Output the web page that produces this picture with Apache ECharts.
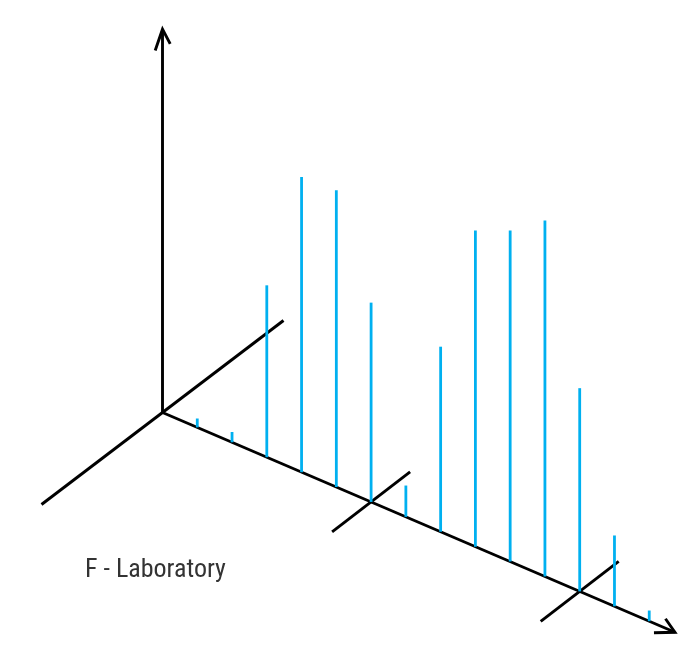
<!DOCTYPE html>
<html>
<head>
<meta charset="utf-8">
<title>F - Laboratory</title>
<script src="https://cdn.jsdelivr.net/npm/echarts@6/dist/echarts.min.js"></script>
<style>
  html, body { margin: 0; padding: 0; background: #fff; }
  #chart { width: 699px; height: 666px; }
</style>
</head>
<body>
<div id="chart"></div>
<script>
  // positions along the slanted axis and spike heights (relative, max = 100)
  const positions = [1, 2, 3, 4, 5, 6, 7, 8, 9, 10, 11, 12, 13, 14];
  const intensities = [2.5, 2.9, 48.3, 82.9, 83.4, 56.0, 8.8, 52.0, 88.8, 93.0, 100, 57.1, 19.9, 3.0];
  // marks crossing the slanted axis
  const crossTicks = [6, 12];
  const labelText = 'F - Laboratory';

  const blue = '#00b0f0';
  const skew = 0.4288;        // drop of the slanted axis per pixel
  const axisEnd = 14.74;      // arrow tip of the slanted axis
  const heightEnd = 107.7;    // arrow tip of the vertical axis
  const depth = [121, -92];   // half length of the depth axis (px)
  const crossHalf = [39, -30];

  let chart = echarts.init(document.getElementById('chart'));

  // point on the slanted baseline for a given position
  function basePoint(api, x) {
    let o = api.coord([0, 0]);
    let p = api.coord([x, 0]);
    return [p[0], p[1] + skew * (p[0] - o[0])];
  }

  function renderAxes(params, api) {
    let o = api.coord([0, 0]);
    let top = api.coord([0, heightEnd]);
    let tip = basePoint(api, axisEnd);
    let lineStyle = { stroke: '#000', lineWidth: 2.9, fill: null, lineJoin: 'miter' };
    let children = [
      { type: 'line', shape: { x1: o[0], y1: o[1], x2: top[0], y2: top[1] }, style: lineStyle },
      { type: 'polyline', shape: { points: [[top[0] - 7.3, top[1] + 21.4], top, [top[0] + 7.7, top[1] + 14.7]] }, style: lineStyle },
      { type: 'line', shape: { x1: o[0], y1: o[1], x2: tip[0], y2: tip[1] }, style: lineStyle },
      { type: 'polyline', shape: { points: [[tip[0] - 21, tip[1] + 0.5], tip, [tip[0] - 9.5, tip[1] - 13.5]] }, style: lineStyle },
      { type: 'line', shape: { x1: o[0] - depth[0], y1: o[1] - depth[1], x2: o[0] + depth[0], y2: o[1] + depth[1] }, style: lineStyle }
    ];
    crossTicks.forEach(function (c) {
      let p = basePoint(api, c);
      children.push({
        type: 'line',
        shape: { x1: p[0] - crossHalf[0], y1: p[1] - crossHalf[1], x2: p[0] + crossHalf[0], y2: p[1] + crossHalf[1] },
        style: lineStyle
      });
    });
    return { type: 'group', children: children };
  }

  function renderSpike(params, api) {
    let p = basePoint(api, api.value(0));
    let h = api.size([0, api.value(1)])[1];
    return {
      type: 'line',
      shape: { x1: p[0], y1: p[1], x2: p[0], y2: p[1] - h },
      style: { stroke: blue, lineWidth: 2.8 }
    };
  }

  let option = {
    animation: false,
    grid: { left: 162.5, right: 15, top: 21, bottom: 253.5 },
    xAxis: { type: 'value', min: 0, max: 15, show: false },
    yAxis: { type: 'value', min: 0, max: 110, show: false },
    series: [
      {
        type: 'custom',
        z: 1,
        clip: false,
        silent: true,
        renderItem: renderAxes,
        data: [[0, 0]]
      },
      {
        type: 'custom',
        z: 2,
        clip: false,
        renderItem: renderSpike,
        data: positions.map(function (p, i) { return [p, intensities[i]]; })
      }
    ],
    graphic: [
      {
        type: 'text',
        left: 85,
        top: 557,
        style: {
          text: labelText,
          fill: '#333',
          font: '26px "Liberation Sans Narrow", "Roboto Condensed", "DejaVu Sans Condensed", sans-serif'
        }
      }
    ]
  };
  chart.setOption(option);
</script>
</body>
</html>
